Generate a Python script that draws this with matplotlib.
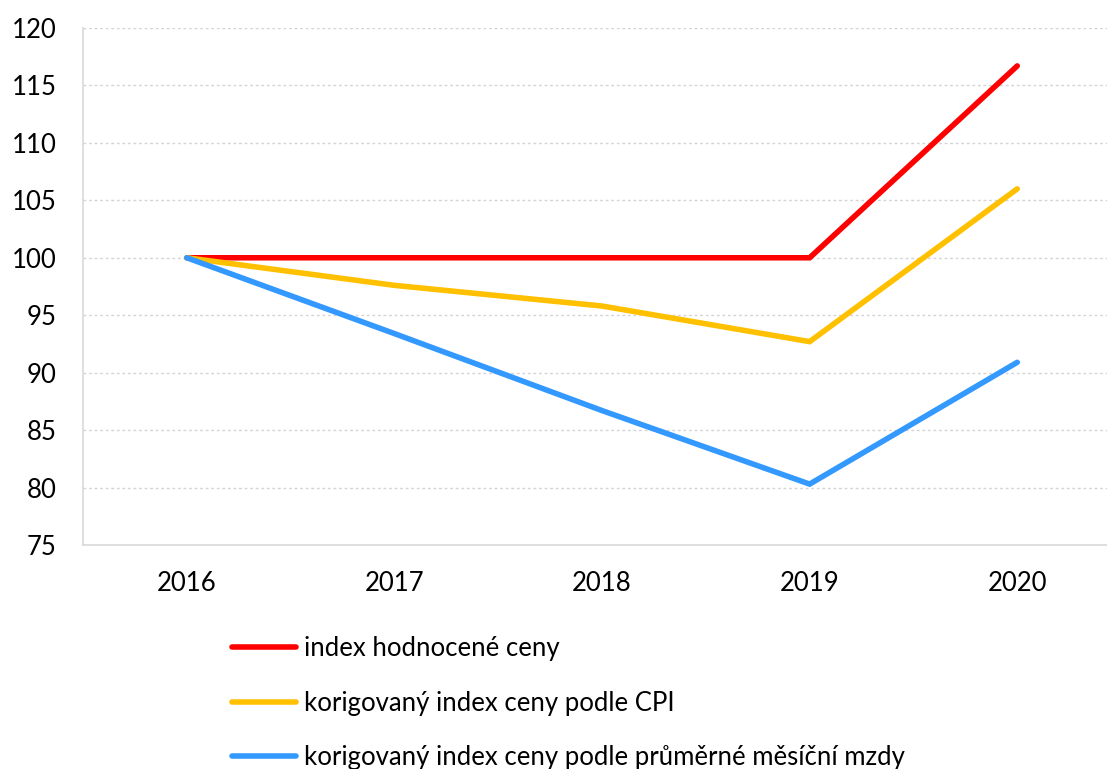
import matplotlib
matplotlib.use("Agg")
import matplotlib.pyplot as plt

years = ["2016", "2017", "2018", "2019", "2020"]
index_price = [100.0, 100.0, 100.0, 100.0, 116.7]
index_cpi = [100.0, 97.6, 95.8, 92.7, 106.0]
index_wage = [100.0, 93.4, 86.7, 80.3, 90.9]
labels = ["index hodnocené ceny",
          "korigovaný index ceny podle CPI",
          "korigovaný index ceny podle průměrné měsíční mzdy"]
colors = ["#ff0000", "#ffc000", "#3399ff"]
yticks = list(range(75, 121, 5))

plt.rcParams["font.family"] = ["Lato", "DejaVu Sans"]

fig = plt.figure(figsize=(11.07, 7.69), dpi=100)
ax = fig.add_axes([0.075, 0.2913, 0.9377, 0.6723])

x = list(range(len(years)))
for vals, lab, col in zip([index_price, index_cpi, index_wage], labels, colors):
    ax.plot(x, vals, color=col, lw=4.0, label=lab, solid_capstyle="round",
            solid_joinstyle="miter")

ax.set_xlim(-0.5, len(years) - 0.5)
ax.set_ylim(75, 120)
ax.set_yticks(yticks)
ax.set_xticks(x)
ax.set_xticklabels(years)
ax.grid(axis="y", color="#d4d4d4", lw=1.0, ls=(0, (2, 2)))
ax.set_axisbelow(True)
for s in ("top", "right"):
    ax.spines[s].set_visible(False)
for s in ("left", "bottom"):
    ax.spines[s].set_color("#d9d9d9")
    ax.spines[s].set_linewidth(1.2)
ax.tick_params(axis="both", length=0, labelsize=18.5, colors="#000000")
ax.tick_params(axis="y", pad=19)
ax.tick_params(axis="x", pad=19)

fig.legend(loc="upper left", bbox_to_anchor=(0.2, 0.186), frameon=False,
           fontsize=18.5, handlelength=2.5, handletextpad=0.3, labelspacing=1.15,
           borderaxespad=0)

fig.savefig("out.png", dpi=100)
